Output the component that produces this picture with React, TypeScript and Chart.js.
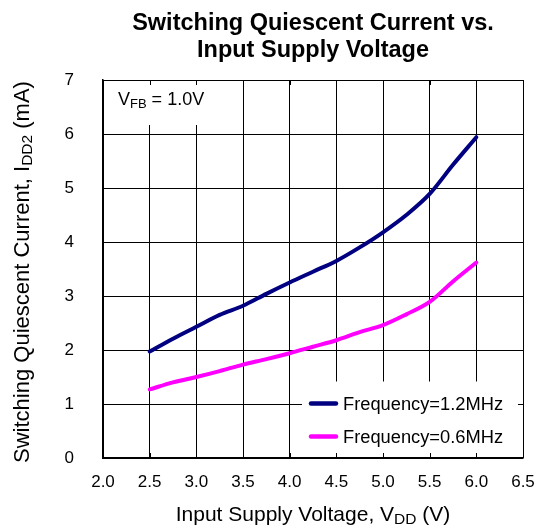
import { useEffect, useRef } from "react";
import { Chart, registerables } from "chart.js";

Chart.register(...registerables);

const voltages = [2.5, 2.75, 3.0, 3.25, 3.5, 3.75, 4.0, 4.25, 4.5, 4.75, 5.0, 5.25, 5.5, 5.75, 6.0];
const current12MHz = [1.97, 2.21, 2.43, 2.65, 2.82, 3.04, 3.25, 3.45, 3.65, 3.9, 4.18, 4.5, 4.89, 5.43, 5.94];
const current06MHz = [1.27, 1.4, 1.5, 1.61, 1.73, 1.83, 1.94, 2.06, 2.18, 2.33, 2.46, 2.66, 2.89, 3.27, 3.62];
const seriesLabels = ["Frequency=1.2MHz", "Frequency=0.6MHz"];
const seriesColors = ["#000080", "#ff00ff"];
const xTicks = [2.0, 2.5, 3.0, 3.5, 4.0, 4.5, 5.0, 5.5, 6.0, 6.5];
const yTicks = [0, 1, 2, 3, 4, 5, 6, 7];
const titleLines = ["Switching Quiescent Current vs.", "Input Supply Voltage"];

const FONT = "Arial, 'Liberation Sans', sans-serif";

type Seg = { t: string; sub?: boolean };

function drawRich(
  ctx: CanvasRenderingContext2D,
  segs: Seg[],
  size: number,
  subSize: number,
  subShift: number
) {
  let total = 0;
  const widths = segs.map((s) => {
    ctx.font = `${s.sub ? subSize : size}px ${FONT}`;
    const w = ctx.measureText(s.t).width;
    total += w;
    return w;
  });
  let x = -total / 2;
  segs.forEach((s, i) => {
    ctx.font = `${s.sub ? subSize : size}px ${FONT}`;
    ctx.fillText(s.t, x, s.sub ? subShift : 0);
    x += widths[i];
  });
}

const decor = {
  id: "decor",
  beforeDatasetsDraw(chart: any) {
    const { ctx, chartArea, scales } = chart;
    const xs = scales.x;
    const ys = scales.y;
    ctx.save();
    ctx.fillStyle = "#fff";
    const bx1 = chartArea.left + 1;
    const by1 = chartArea.top + 1;
    ctx.fillRect(bx1, by1, 212 - bx1, 125 - by1);
    ctx.fillRect(302, 381.5, chartArea.right - 1 - 302, chartArea.bottom - 1 - 381.5);
    ctx.strokeStyle = "#000";
    ctx.lineWidth = 1;
    ctx.beginPath();
    xTicks.forEach((v) => {
      const px = Math.round(xs.getPixelForValue(v)) + 0.5;
      ctx.moveTo(px, chartArea.top);
      ctx.lineTo(px, chartArea.top + 5);
      ctx.moveTo(px, chartArea.bottom);
      ctx.lineTo(px, chartArea.bottom - 5);
    });
    yTicks.forEach((v) => {
      const py = Math.round(ys.getPixelForValue(v)) + 0.5;
      ctx.moveTo(chartArea.left, py);
      ctx.lineTo(chartArea.left + 5, py);
      ctx.moveTo(chartArea.right, py);
      ctx.lineTo(chartArea.right - 5, py);
    });
    ctx.stroke();
    ctx.fillStyle = "#000";
    ctx.textBaseline = "alphabetic";
    ctx.textAlign = "left";
    let x = 118;
    const by = 105;
    ctx.font = `18px ${FONT}`;
    ctx.fillText("V", x, by);
    x += ctx.measureText("V").width;
    ctx.font = `13px ${FONT}`;
    ctx.fillText("FB", x, by + 3);
    x += ctx.measureText("FB").width;
    ctx.font = `18px ${FONT}`;
    ctx.fillText(" = 1.0V", x, by);
    ctx.restore();
  },
  afterDatasetsDraw(chart: any) {
    const { ctx, chartArea } = chart;
    ctx.save();
    const rows = [403.5, 436.5];
    rows.forEach((ry, i) => {
      ctx.strokeStyle = seriesColors[i];
      ctx.lineWidth = 4.5;
      ctx.lineCap = "round";
      ctx.beginPath();
      ctx.moveTo(311, ry);
      ctx.lineTo(336, ry);
      ctx.stroke();
      ctx.fillStyle = "#000";
      ctx.font = `18.3px ${FONT}`;
      ctx.textAlign = "left";
      ctx.textBaseline = "middle";
      ctx.fillText(seriesLabels[i], 343, ry + 1);
    });
    ctx.fillStyle = "#000";
    ctx.textAlign = "center";
    ctx.textBaseline = "alphabetic";
    ctx.font = `bold 23.5px ${FONT}`;
    const cx = (chartArea.left + chartArea.right) / 2;
    ctx.fillText(titleLines[0], cx, 30);
    ctx.fillText(titleLines[1], cx, 57);
    ctx.textAlign = "left";
    ctx.save();
    ctx.translate(313, 521);
    drawRich(
      ctx,
      [{ t: "Input Supply Voltage, V" }, { t: "DD", sub: true }, { t: " (V)" }],
      21,
      15.5,
      3
    );
    ctx.restore();
    ctx.save();
    ctx.translate(29, 272);
    ctx.rotate(-Math.PI / 2);
    drawRich(
      ctx,
      [{ t: "Switching Quiescent Current, I" }, { t: "DD2", sub: true }, { t: " (mA)" }],
      22,
      15.5,
      3
    );
    ctx.restore();
    ctx.restore();
  },
};

export default function App() {
  const ref = useRef<HTMLCanvasElement>(null);
  useEffect(() => {
    const canvas = ref.current!;
    const mk = (vals: number[]) => voltages.map((x, i) => ({ x, y: vals[i] }));
    const chart = new Chart(canvas, {
      type: "line",
      data: {
        datasets: [
          {
            label: seriesLabels[0],
            data: mk(current12MHz),
            borderColor: seriesColors[0],
            backgroundColor: seriesColors[0],
            borderWidth: 4,
            pointRadius: 0,
            cubicInterpolationMode: "monotone",
            borderCapStyle: "round",
          },
          {
            label: seriesLabels[1],
            data: mk(current06MHz),
            borderColor: seriesColors[1],
            backgroundColor: seriesColors[1],
            borderWidth: 4,
            pointRadius: 0,
            cubicInterpolationMode: "monotone",
            borderCapStyle: "round",
          },
        ],
      },
      options: {
        responsive: false,
        animation: false,
        layout: { padding: { top: 80, right: 14, left: 0, bottom: 0 } },
        plugins: {
          legend: { display: false },
          title: { display: false },
          tooltip: { enabled: false },
        },
        scales: {
          x: {
            type: "linear",
            min: 2,
            max: 6.5,
            afterBuildTicks: (s: any) => {
              s.ticks = xTicks.map((v) => ({ value: v }));
            },
            afterFit: (s: any) => {
              s.height = 71;
              s.paddingLeft = 0;
              s.paddingRight = 0;
            },
            ticks: {
              callback: (v: any) => Number(v).toFixed(1),
              font: { family: FONT, size: 17 },
              color: "#000",
              padding: 14,
              maxRotation: 0,
              autoSkip: false,
            },
            grid: { color: "#000", lineWidth: 1, drawTicks: false },
            border: { color: "#000", width: 1.5 },
          },
          y: {
            type: "linear",
            min: 0,
            max: 7,
            afterBuildTicks: (s: any) => {
              s.ticks = yTicks.map((v) => ({ value: v }));
            },
            afterFit: (s: any) => {
              s.width = 103;
              s.paddingTop = 0;
              s.paddingBottom = 0;
            },
            ticks: {
              callback: (v: any) => String(v),
              font: { family: FONT, size: 17 },
              color: "#000",
              padding: 29,
              autoSkip: false,
            },
            grid: { color: "#000", lineWidth: 1, drawTicks: false },
            border: { color: "#000", width: 1.5 },
          },
        },
      },
      plugins: [decor],
    });
    return () => chart.destroy();
  }, []);
  return (
    <div style={{ position: "absolute", left: 0, top: 0, width: 537, height: 529 }}>
      <canvas ref={ref} width={537} height={529} style={{ display: "block" }} />
    </div>
  );
}
